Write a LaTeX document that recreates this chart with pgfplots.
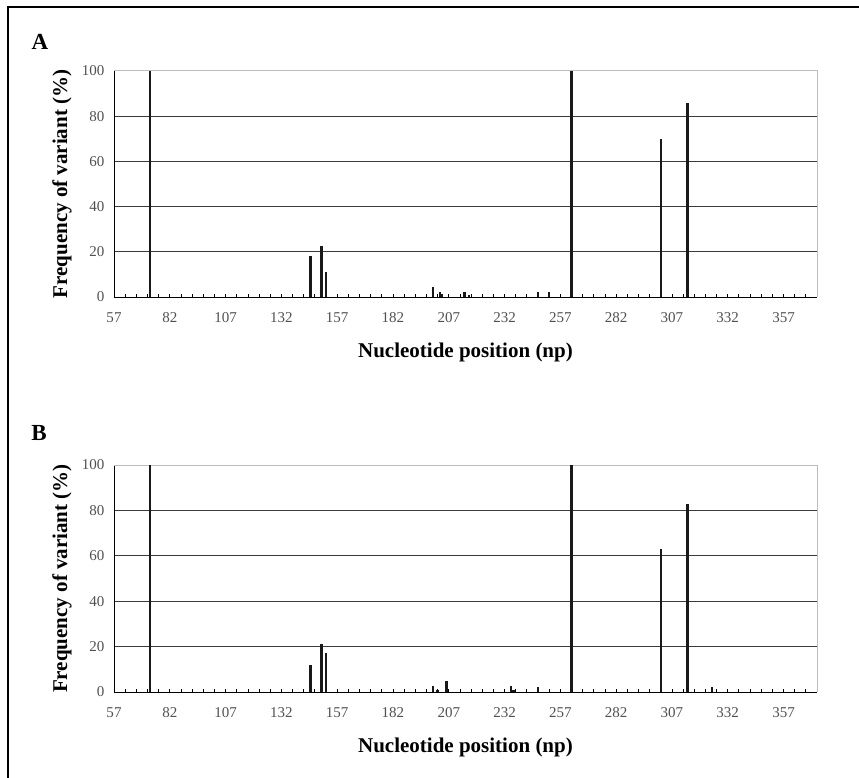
\documentclass[border=0pt]{standalone}
\usepackage{pgfplots}
\pgfplotsset{compat=1.18}
\usepackage{pgfplotstable}
\usepackage{fontspec}
\setmainfont{Liberation Serif}

\definecolor{gridc}{HTML}{3A3A3A}
\definecolor{boxc}{HTML}{BDBDBD}
\definecolor{tickc}{HTML}{505050}

% variant frequencies, panel A
\pgfplotstableread{
pos freq
73  100
145 18
150 22.5
152 11
200 4.3
203 2
204 1.5
214 2
216 1
247 2
252 2
262 100
302 70
314 86
}\dataA

% variant frequencies, panel B
\pgfplotstableread{
pos freq
73  100
145 12
150 21
152 17
200 2.5
202 1
206 5
235 2.5
236 1
247 2
262 100
302 63
314 83
325 2
}\dataB

\pgfplotsset{
  panel/.style={
    scale only axis,
    width=703pt, height=226pt,
    anchor=south west,
    xmin=57, xmax=372,
    ymin=0, ymax=100,
    axis x line*=bottom, axis y line*=left,
    axis line style={-, black, line width=0.9pt},
    clip=false,
    xtick={57,82,...,357},
    minor x tick num=4,
    extra x ticks={362,367,372},
    extra x tick labels={},
    tick align=inside,
    major tick length=3.5pt, minor tick length=3.5pt,
    xtick style={black, line width=0.8pt},
    ytick={0,20,40,60,80},
    extra y ticks={100},
    extra y tick style={grid=none},
    ytick style={draw=none},
    ymajorgrids,
    major grid style={gridc, line width=1pt},
    ticklabel style={font=\fontsize{15}{15}\selectfont, text=tickc},
    /pgf/number format/assume math mode=true,
    xticklabel style={yshift=-12pt},
    yticklabel style={xshift=-6pt},
    xlabel={Nucleotide position (np)},
    ylabel={Frequency of variant (\%)},
    every axis x label/.style={at={(axis description cs:0.5,0)}, anchor=center, yshift=-55pt,
      font=\bfseries\fontsize{21}{21}\selectfont},
    every axis y label/.style={at={(axis description cs:0,0.5)}, rotate=90, anchor=center, yshift=52pt,
      font=\bfseries\fontsize{21}{21}\selectfont},
  },
  bars/.style={ycomb, no marks, draw=black!90, line width=2.3pt},
}

\begin{document}
\begin{tikzpicture}[x=1pt,y=1pt]
\path[use as bounding box] (0,0) rectangle (859,-778);
\draw[line width=1.4pt] (8,-778) -- (8,-7) -- (859,-7);

\node[font=\bfseries\fontsize{23}{23}\selectfont] at (40,-42) {A};
\begin{axis}[panel, at={(114pt,-297pt)}]
  \draw[boxc, line width=1pt] (rel axis cs:0,1) -- (rel axis cs:1,1) -- (rel axis cs:1,0);
  \addplot[bars] table[x=pos, y=freq] {\dataA};
\end{axis}

\node[font=\bfseries\fontsize{23}{23}\selectfont] at (39,-433) {B};
\begin{axis}[panel, at={(114pt,-692pt)}, height=227pt]
  \draw[boxc, line width=1pt] (rel axis cs:0,1) -- (rel axis cs:1,1) -- (rel axis cs:1,0);
  \addplot[bars] table[x=pos, y=freq] {\dataB};
\end{axis}
\end{tikzpicture}
\end{document}
